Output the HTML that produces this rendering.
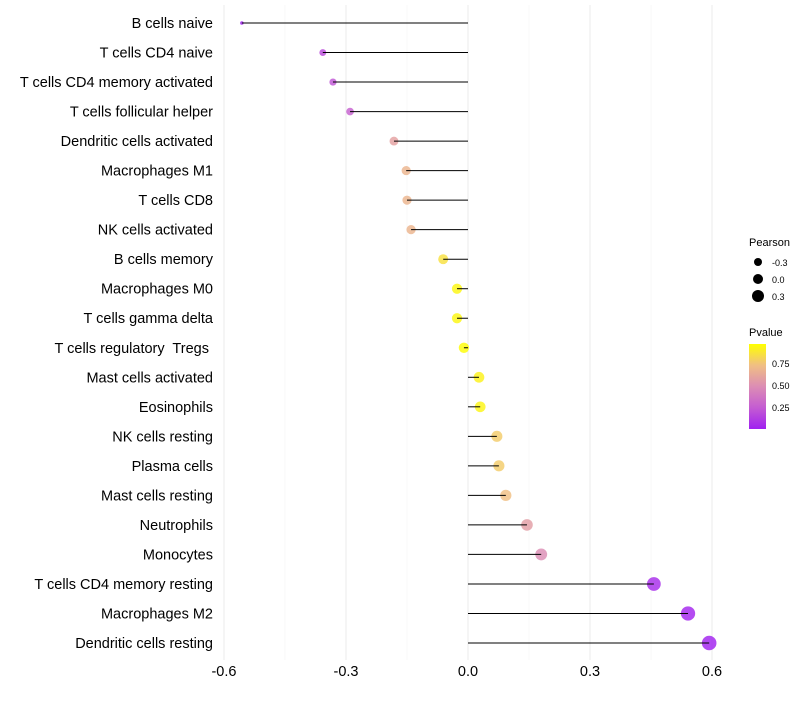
<!DOCTYPE html>
<html><head><meta charset="utf-8"><style>
body{margin:0;background:#fff;font-family:"Liberation Sans",sans-serif}
svg text{font-family:"Liberation Sans",sans-serif;white-space:pre}
</style></head><body>
<svg id="chart" width="800" height="700" xmlns="http://www.w3.org/2000/svg">
<defs><linearGradient id="pg" x1="0" y1="1" x2="0" y2="0">
<stop offset="0" stop-color="#A020F0"/><stop offset="0.25" stop-color="#C45CD2"/><stop offset="0.5" stop-color="#DC8DB4"/><stop offset="0.75" stop-color="#F0BF84"/><stop offset="1" stop-color="#FFFF00"/></linearGradient></defs>
<g id="grid"></g>
<g id="points"></g>
<g id="stems"></g>
<g id="axes"></g>
<g id="legend">
<text x="749" y="246" font-size="11" fill="#000">Pearson</text>
<circle cx="758" cy="262" r="4" fill="#000"/>
<text x="772" y="266" font-size="9">-0.3</text>
<circle cx="758" cy="279" r="5" fill="#000"/>
<text x="772" y="283" font-size="9">0.0</text>
<circle cx="758" cy="296" r="6" fill="#000"/>
<text x="772" y="300" font-size="9">0.3</text>
<text x="749" y="336" font-size="11">Pvalue</text>
<rect x="749" y="344" width="17" height="85" fill="url(#pg)"/>
<text x="772" y="367" font-size="9">0.75</text>
<text x="772" y="389" font-size="9">0.50</text>
<text x="772" y="411" font-size="9">0.25</text>
</g>
</svg>
<script>
const categories=["B cells naive","T cells CD4 naive","T cells CD4 memory activated","T cells follicular helper","Dendritic cells activated","Macrophages M1","T cells CD8","NK cells activated","B cells memory","Macrophages M0","T cells gamma delta","T cells regulatory  Tregs ","Mast cells activated","Eosinophils","NK cells resting","Plasma cells","Mast cells resting","Neutrophils","Monocytes","T cells CD4 memory resting","Macrophages M2","Dendritic cells resting"];
const pearson=[-0.556,-0.357,-0.332,-0.29,-0.182,-0.152,-0.15,-0.14,-0.061,-0.027,-0.027,-0.01,0.027,0.03,0.071,0.076,0.093,0.145,0.18,0.457,0.541,0.593];
const pvalue=[0.01,0.18,0.22,0.27,0.6,0.7,0.7,0.7,0.88,0.97,0.97,0.99,0.95,0.96,0.8,0.8,0.75,0.58,0.5,0.05,0.02,0.01];
const xTicks=[-0.6,-0.3,0.0,0.3,0.6];
const xTickLabels=["-0.6","-0.3","0.0","0.3","0.6"];
const NS="http://www.w3.org/2000/svg";
const xS=v=>468+v*406.7;
const yS=i=>23+i*(620/21);
const vMin=Math.min(...pearson),vMax=Math.max(...pearson);
const rS=v=>{const t=(v-vMin)/(vMax-vMin||1);return Math.sqrt(1.8*1.8+(7.3*7.3-1.8*1.8)*t);};
const stops=[[0,[160,32,240]],[0.25,[196,92,210]],[0.5,[220,141,180]],[0.75,[240,191,132]],[1,[255,255,0]]];
function col(p){for(let k=1;k<stops.length;k++){if(p<=stops[k][0]){const a=stops[k-1],b=stops[k],t=(p-a[0])/(b[0]-a[0]);return "rgb("+a[1].map((c,j)=>Math.round(c+(b[1][j]-c)*t)).join(",")+")";}}return "rgb(255,255,0)";}
function mk(tag,at,parent){const e=document.createElementNS(NS,tag);for(const k in at)e.setAttribute(k,at[k]);parent.appendChild(e);return e;}
const grid=document.getElementById('grid'),pts=document.getElementById('points'),stems=document.getElementById('stems'),axes=document.getElementById('axes');
for(let i=0;i<xTicks.length;i++){
 const g=mk('line',{x1:xS(xTicks[i]),x2:xS(xTicks[i]),y1:5,y2:660,stroke:'#ebebeb','stroke-width':1},grid);
 
 
 if(i<xTicks.length-1){const m=(xTicks[i]+xTicks[i+1])/2;
 const g2=mk('line',{x1:xS(m),x2:xS(m),y1:5,y2:660,stroke:'#f3f3f3','stroke-width':0.6},grid);
 
 }
 const t=mk('text',{x:xS(xTicks[i]),y:676,'font-size':14.5,'text-anchor':'middle',fill:'#000'},axes);
 t.textContent=xTickLabels[i];
 
 
}
categories.forEach((c,i)=>{
 const y=yS(i);
 const t=mk('text',{x:213,y:y+5,'font-size':14.5,'text-anchor':'end',fill:'#000'},axes);
 t.textContent=c;
 
 
 const d=mk('circle',{cx:xS(pearson[i]),cy:y,r:rS(pearson[i]),fill:col(pvalue[i]),'fill-opacity':0.82},pts);
 
 
 const l=mk('line',{x1:xS(0),x2:xS(pearson[i]),y1:y,y2:y,stroke:'#000','stroke-width':1},stems);
 
 
});
</script>
</body></html>
